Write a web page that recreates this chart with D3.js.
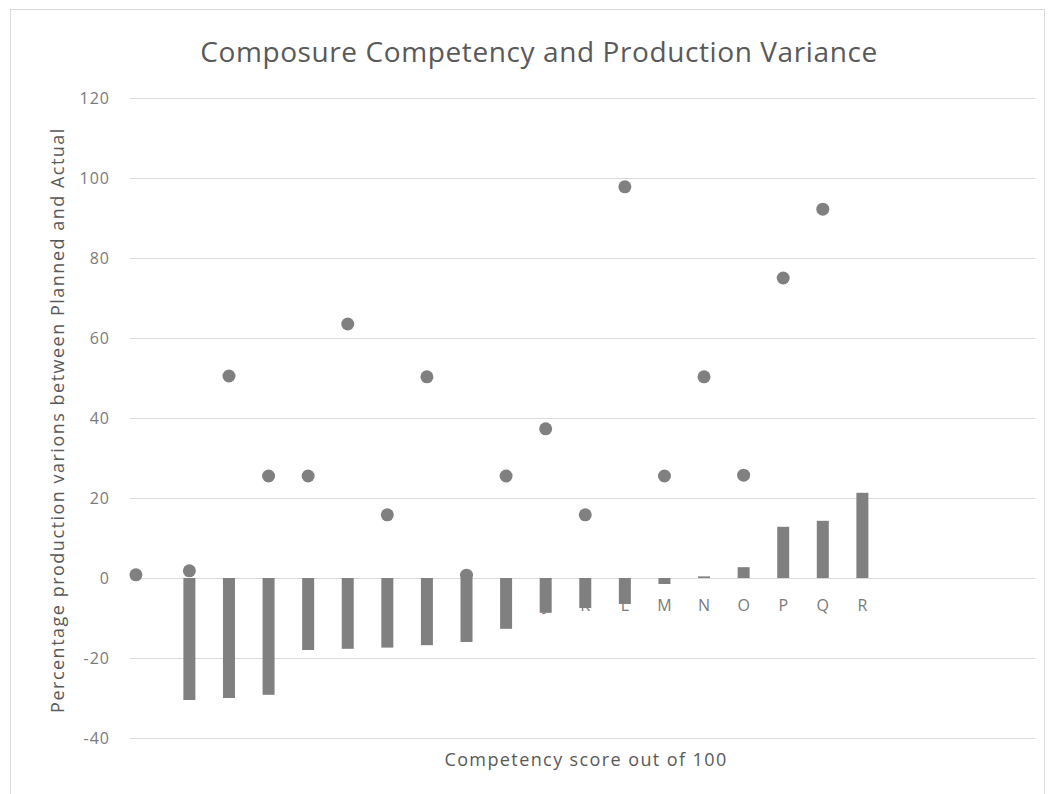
<!DOCTYPE html>
<html lang="en">
<head>
    <meta charset="UTF-8">
    <script src="https://d3js.org/d3.v7.min.js"></script>
    <style>
        body { margin: 0; background: #fff; }
        text { font-family: "Open Sans", sans-serif; }
    </style>
</head>
<body>
    <svg id="chart" width="1054" height="794"></svg>
    <script>
        // categories of the bar series
        const categories = ["A","B","C","D","E","F","G","H","I","J","K","L","M","N","O","P","Q","R"];
        // production variance (bars)
        const variance = [-30.5, -30, -29.2, -18, -17.7, -17.4, -16.8, -16, -12.7, -8.7, -7.5, -6.5, -1.5, 0.4, 2.7, 12.8, 14.3, 21.3];
        // competency scatter: x position on the category axis (A = 1) and value
        const pointX = [-0.35, 1, 2, 3, 4, 5, 6, 7, 8, 9, 10, 11, 12, 13, 14, 15, 16, 17];
        const pointY = [0.8, 1.8, 50.5, 25.5, 25.5, 63.5, 15.8, 50.3, 0.7, 25.5, 37.3, 15.8, 97.8, 25.5, 50.3, 25.7, 75, 92.2];
        const yTicks = [-40, -20, 0, 20, 40, 60, 80, 100, 120];

        const width = 1054, height = 794;
        const plot = { left: 130, right: 1035, top: 98, bottom: 738 };
        const grey = "#808080";

        const svg = d3.select("#chart");

        // outer border of the chart area
        svg.append("rect")
            .attr("x", 10.5).attr("y", 9.5)
            .attr("width", 1034).attr("height", 790)
            .attr("fill", "none")
            .attr("stroke", "#d9d9d9");

        const x = d3.scaleLinear()
            .domain([-0.5, 22.36])
            .range([plot.left, plot.right]);

        const y = d3.scaleLinear()
            .domain([-40, 120])
            .range([plot.bottom, plot.top]);

        // gridlines
        svg.append("g")
            .selectAll("line")
            .data(yTicks)
            .enter().append("line")
            .attr("x1", plot.left).attr("x2", plot.right)
            .attr("y1", d => Math.round(y(d)) + 0.5)
            .attr("y2", d => Math.round(y(d)) + 0.5)
            .attr("stroke", "#d9d9d9")
            .attr("stroke-width", 1);

        // y tick labels
        svg.append("g")
            .selectAll("text")
            .data(yTicks)
            .enter().append("text")
            .attr("x", plot.left - 20)
            .attr("y", d => y(d))
            .attr("dy", "0.35em")
            .attr("text-anchor", "end")
            .style("font-size", "16px")
            .style("letter-spacing", "1px")
            .attr("fill", "#7a7a7a")
            .text(d => d);

        // category labels (sit under the bars)
        svg.append("g")
            .selectAll("text")
            .data(categories)
            .enter().append("text")
            .attr("x", (d, i) => x(i + 1))
            .attr("y", y(0) + 27)
            .attr("dy", "0.35em")
            .attr("text-anchor", "middle")
            .style("font-size", "16px")
            .attr("fill", "#7a7a7a")
            .text(d => d);

        // bars
        const barW = 12;
        svg.append("g")
            .selectAll("rect")
            .data(variance)
            .enter().append("rect")
            .attr("x", (d, i) => x(i + 1) - barW / 2)
            .attr("y", d => y(Math.max(0, d)))
            .attr("width", barW)
            .attr("height", d => Math.abs(y(d) - y(0)))
            .attr("fill", grey);

        // scatter points
        svg.append("g")
            .selectAll("circle")
            .data(pointY)
            .enter().append("circle")
            .attr("cx", (d, i) => x(pointX[i]))
            .attr("cy", d => y(d))
            .attr("r", 6.5)
            .attr("fill", grey);

        // title
        svg.append("text")
            .attr("x", 539)
            .attr("y", 52)
            .attr("dy", "0.35em")
            .attr("text-anchor", "middle")
            .style("font-size", "28px")
            .style("letter-spacing", "0.6px")
            .attr("fill", "#595959")
            .text("Composure Competency and Production Variance");

        // axis titles
        svg.append("text")
            .attr("x", 586)
            .attr("y", 760)
            .attr("dy", "0.35em")
            .attr("text-anchor", "middle")
            .style("font-size", "18px")
            .style("letter-spacing", "1.4px")
            .attr("fill", "#595959")
            .text("Competency score out of 100");

        svg.append("text")
            .attr("transform", `translate(58,420) rotate(-90)`)
            .attr("dy", "0.35em")
            .attr("text-anchor", "middle")
            .style("font-size", "18px")
            .style("letter-spacing", "1.5px")
            .attr("fill", "#595959")
            .text("Percentage production varions between Planned and Actual");
    </script>
</body>
</html>
